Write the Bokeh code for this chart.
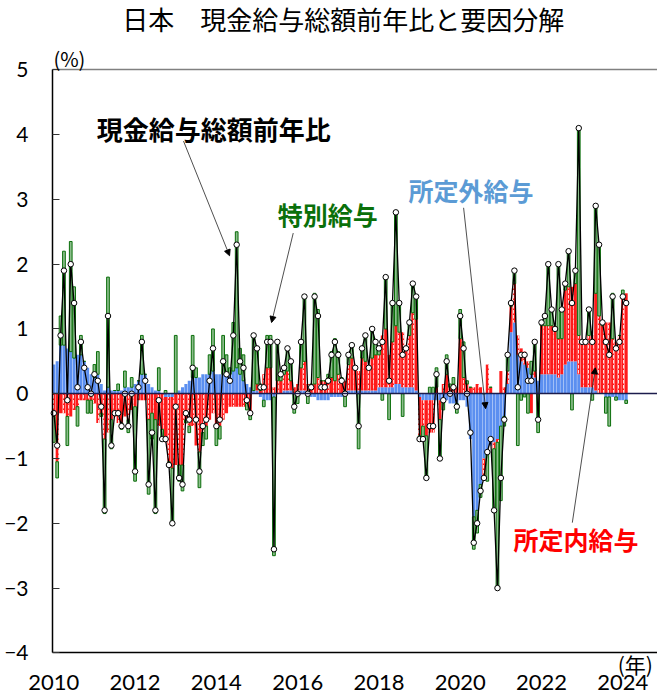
import pandas as pd
from bokeh.plotting import figure
from bokeh.models import Label, Arrow, NormalHead, FixedTicker, ColumnDataSource, LinearAxis
from bokeh.embed import file_html
from bokeh.resources import INLINE

# ---- data (% y/y and contributions, % points), monthly Jan 2010 - Feb 2024 ----
total = [
    -0.3, -0.8, 0.9, 1.9, -0.1, 2.0, 1.4, 0.1, 0.8, 0.4, 0.1, 0.0,
    0.3, 0.2, -0.2, -1.8, 1.2, -0.8, -0.3, -0.3, -0.5, 0.0, -0.5, 0.0,
    -1.2, 0.1, 0.8, 0.2, -1.4, -0.6, -1.8, -0.1, -0.7, -0.7, -1.1, -2.0,
    -0.2, -1.3, -1.4, -0.3, -0.4, 0.4, -0.4, -1.2, -0.5, -0.4, 0.2, 0.7,
    -0.5, -0.4, 0.5, 0.3, 0.2, 0.9, 2.3, 0.5, 0.4, -0.1, -0.3, 0.9,
    0.7, 0.1, 0.1, 0.8, 0.8, -2.4, 0.8, 0.3, 0.4, 0.7, 0.5, -0.2,
    0.0, 0.8, 1.5, 0.0, 0.1, 1.5, 1.2, 0.1, 0.1, 0.2, 0.6, 0.8,
    0.6, 0.2, 0.0, 0.6, 0.75, 0.4, -0.5, 0.7, 0.9, 0.4, 1.0, 0.8,
    0.7, 0.8, 1.8, 0.2, 1.4, 2.8, 1.4, 0.6, 0.7, 1.1, 1.7, 1.5,
    -0.7, -0.7, -1.3, -0.5, -0.5, 0.3, -1.0, -0.1, 0.5, 0.0, 0.1, -0.2,
    1.2, 0.7, 0.0, -0.6, -2.3, -2.0, -1.5, -1.3, -0.9, -0.7, -1.8, -3.0,
    -1.3, -0.4, 0.6, 1.4, 1.9, 0.1, 0.6, 0.6, 0.2, 0.2, 0.8, -0.4,
    1.1, 1.2, 2.0, 1.3, 1.0, 2.0, 1.3, 1.7, 2.2, 1.4, 1.9, 4.1,
    0.8, 0.8, 1.3, 0.8, 2.9, 2.3, 1.1, 0.8, 0.6, 1.5, 0.7, 0.8,
    1.5, 1.4,
]
shotei_gai = [  # 所定外給与
    0.45, 0.5, 0.75, 0.75, 0.7, 0.65, 0.55, 0.6, 0.6, 0.5, 0.4, 0.3,
    0.25, 0.3, 0.15, 0.05, 0.1, 0.05, 0.05, 0.05, 0.05, 0.1, 0.1, 0.1,
    0.15, 0.2, 0.3, 0.3, 0.15, 0.1, 0.05, 0.05, 0.0, -0.05, -0.05, -0.05,
    0.0, 0.05, 0.1, 0.15, 0.2, 0.25, 0.25, 0.25, 0.3, 0.3, 0.3, 0.35,
    0.3, 0.3, 0.3, 0.3, 0.3, 0.35, 0.4, 0.3, 0.2, 0.15, 0.1, 0.05,
    0.05, -0.05, -0.1, -0.1, -0.1, -0.05, 0.0, 0.0, 0.05, 0.05, 0.05, 0.0,
    0.0, 0.05, 0.05, 0.0, -0.05, -0.05, -0.1, -0.1, -0.1, -0.1, -0.05, -0.05,
    -0.05, -0.05, 0.0, 0.05, 0.05, 0.05, 0.05, 0.05, 0.05, 0.05, 0.05, 0.05,
    0.1, 0.1, 0.1, 0.1, 0.1, 0.15, 0.15, 0.1, 0.1, 0.1, 0.1, 0.05,
    -0.05, -0.1, -0.1, -0.1, -0.1, -0.1, -0.1, -0.1, -0.1, -0.15, -0.15, -0.15,
    -0.1, -0.1, -0.2, -0.7, -1.9, -1.8, -1.4, -1.0, -0.9, -0.8, -0.75, -0.7,
    -0.5, -0.35, 0.15, 0.95, 1.1, 0.6, 0.5, 0.45, 0.4, 0.3, 0.25, 0.2,
    0.3, 0.3, 0.3, 0.3, 0.3, 0.25, 0.3, 0.45, 0.5, 0.5, 0.5, 0.3,
    0.1, 0.1, 0.1, 0.1, 0.05, 0.0, 0.0, -0.05, -0.05, -0.05, -0.05, -0.1,
    -0.1, -0.1,
]
shotei_nai = [  # 所定内給与
    -0.35, -1.05, -0.3, -0.3, -0.35, -0.35, -0.25, -0.2, -0.1, -0.1, -0.1, -0.1,
    -0.15, -0.45, -0.3, -0.7, -0.6, -0.4, -0.35, -0.45, -0.45, -0.35, -0.4, -0.25,
    -0.2, -0.1, -0.1, -0.1, -0.4, -0.3, -0.4, -0.5, -0.55, -0.7, -1.0, -1.1,
    -1.1, -1.1, -1.1, -0.4, -0.5, -0.5, -0.8, -0.9, -0.6, -0.5, -0.4, -0.3,
    -0.5, -0.5, -0.4, -0.3, -0.2, -0.2, -0.2, -0.2, -0.2, -0.15, -0.3, 0.0,
    0.1, 0.05, 0.3, 0.4, 0.4, 0.1, 0.2, 0.2, 0.25, 0.3, 0.15, 0.1,
    0.15, 0.35, 0.45, 0.15, 0.1, 0.15, 0.25, 0.2, 0.2, 0.25, 0.25, 0.2,
    0.3, 0.2, 0.2, 0.4, 0.5, 0.35, 0.3, 0.5, 0.45, 0.35, 0.5, 0.55,
    0.5, 0.8, 0.9, 0.5, 0.7, 0.9, 0.8, 0.85, 0.6, 0.8, 1.15, 1.1,
    -0.6, -0.4, -0.55, -0.5, -0.5, 0.1, -0.3, 0.15, 0.3, 0.1, 0.15, 0.1,
    0.85, 0.25, 0.15, 0.1, 0.1, 0.15, 0.1, -0.3, 0.45, 0.1, -0.1, -0.05,
    0.35, 0.1, 0.2, 0.4, 0.6, 0.3, 0.2, 0.2, 0.1, -0.3, 0.1, 0.0,
    0.75, 0.75, 0.75, 0.75, 0.7, 0.6, 0.55, 1.15, 1.15, 1.15, 1.2, 0.6,
    0.7, 0.7, 0.8, 0.8, 1.5, 1.2, 1.05, 1.1, 1.1, 0.85, 0.8, 0.9,
    1.5, 1.55,
]
tokubetsu = [  # 特別給与
    -0.4, -0.25, 0.45, 1.45, -0.45, 1.7, 1.1, -0.3, 0.3, 0.0, -0.2, -0.2,
    0.2, 0.35, -0.05, -1.15, 1.7, -0.45, 0.0, 0.1, -0.1, 0.25, -0.2, 0.15,
    -1.15, 0.0, 0.6, 0.0, -1.15, -0.4, -1.45, 0.35, -0.15, 0.05, -0.05, -0.85,
    0.9, -0.25, -0.4, -0.05, -0.1, 0.65, 0.15, -0.55, -0.2, -0.2, 0.3, 0.65,
    -0.3, -0.2, 0.6, 0.3, 0.1, 0.75, 2.1, 0.4, 0.4, -0.1, -0.1, 0.85,
    0.55, 0.1, -0.1, 0.5, 0.5, -2.45, 0.6, 0.1, 0.1, 0.35, 0.3, -0.3,
    -0.15, 0.4, 1.0, -0.15, 0.05, 1.4, 1.05, 0.0, 0.0, 0.05, 0.4, 0.65,
    0.35, 0.05, -0.2, 0.15, 0.2, 0.0, -0.85, 0.15, 0.4, 0.0, 0.45, 0.2,
    0.1, -0.1, 0.8, -0.4, 0.6, 1.75, 0.45, -0.35, 0.0, 0.2, 0.45, 0.35,
    -0.05, -0.2, -0.65, 0.1, 0.1, 0.3, -0.6, -0.15, 0.3, 0.05, 0.1, -0.15,
    0.45, 0.55, 0.05, 0.0, -0.5, -0.35, -0.2, 0.0, -0.45, 0.0, -0.95, -2.25,
    -1.15, -0.15, 0.25, 0.05, 0.2, -0.8, -0.1, -0.05, -0.3, 0.2, 0.45, -0.6,
    0.05, 0.15, 0.95, 0.25, 0.0, 1.15, 0.45, 0.1, 0.55, -0.25, 0.2, 3.2,
    0.0, 0.0, 0.4, -0.1, 1.35, 1.1, 0.05, -0.25, -0.45, 0.7, -0.05, 0.0,
    0.1, -0.05,
]
tick_years = ["2010", "2012", "2014", "2016", "2018", "2020", "2022", "2024"]
y_ticks = [-4, -3, -2, -1, 0, 1, 2, 3, 4, 5]
y_min, y_max = -4, 5

# ---- positions ----
months = pd.date_range("2010-01-01", periods=len(total), freq="MS")
xs = list(range(len(months)))
month_keys = [m.strftime("%Y-%m") for m in months]
tick_pos = [month_keys.index(y + "-01") for y in tick_years]

# stacked bars (positive and negative stacks separately, as in Excel)
n = len(xs)
pos_base = [0.0] * n
neg_base = [0.0] * n
stacks = {}
for name, vals in [("gai", shotei_gai), ("nai", shotei_nai), ("toku", tokubetsu)]:
    bot, top = [], []
    for i, v in enumerate(vals):
        if v >= 0:
            bot.append(pos_base[i]); top.append(pos_base[i] + v); pos_base[i] += v
        else:
            top.append(neg_base[i]); bot.append(neg_base[i] + v); neg_base[i] += v
    stacks[name] = ColumnDataSource(dict(x=xs, bottom=bot, top=top))

JP = "Noto Sans CJK JP"
NUM = "Lato"

# plot area of the chart: x from -0.38 to the right edge, y from -4 to 5;
# the canvas margin around it is part of the ranges so that texts are not clipped
X_LEFT, X_RIGHT = -0.38, 178.25
p = figure(width=657, height=699, x_range=(-15.737, X_RIGHT), y_range=(-4.720, 6.070),
           output_backend="svg", toolbar_location=None,
           min_border_left=0, min_border_right=0, min_border_top=0, min_border_bottom=0)
p.title.visible = False
p.outline_line_color = None
p.xgrid.visible = False
p.ygrid.visible = False
p.background_fill_color = "white"
p.border_fill_color = "white"

# axes
yax = p.yaxis[0]
yax.fixed_location = X_LEFT
yax.bounds = (y_min, y_max)
yax.ticker = FixedTicker(ticks=y_ticks)
yax.major_tick_in = 7
yax.major_tick_out = 0
yax.minor_tick_line_color = None
yax.axis_line_width = 1.5
yax.axis_line_color = "black"
yax.major_tick_line_color = "#333333"
yax.major_label_text_font = NUM
yax.major_label_text_font_size = "21px"
yax.major_label_text_color = "black"
yax.major_label_standoff = 24

xax = p.xaxis[0]
xax.fixed_location = y_min
xax.bounds = (X_LEFT, X_RIGHT)
xax.ticker = FixedTicker(ticks=tick_pos)
xax.major_label_overrides = {t: lab for t, lab in zip(tick_pos, tick_years)}
xax.major_tick_in = 0
xax.major_tick_out = 0
xax.minor_tick_line_color = None
xax.axis_line_width = 1.3
xax.axis_line_color = "black"
xax.major_label_text_font = NUM
xax.major_label_text_font_size = "22px"
xax.major_label_text_color = "black"
xax.major_label_standoff = 22

# top frame line and zero line as plain axes without ticks
top_ax = LinearAxis(fixed_location=y_max, bounds=(X_LEFT, X_RIGHT), ticker=FixedTicker(ticks=[]),
                    axis_line_color="#808080", axis_line_width=1.5,
                    major_tick_line_color=None, minor_tick_line_color=None)
p.add_layout(top_ax, "above")
zero_ax = LinearAxis(fixed_location=0, bounds=(X_LEFT, X_RIGHT), ticker=FixedTicker(ticks=[]),
                     axis_line_color="#1c1c4c", axis_line_width=1.5,
                     major_tick_line_color=None, minor_tick_line_color=None)
p.add_layout(zero_ax, "below")

# bars
p.vbar(x="x", width=0.9, bottom="bottom", top="top", source=stacks["gai"],
       fill_color="#5b8ff0", line_color=None)
p.vbar(x="x", width=0.9, bottom="bottom", top="top", source=stacks["nai"],
       fill_color="#ff1a1a", line_color=None,
       hatch_pattern="vertical_dash", hatch_color="white", hatch_scale=5,
       hatch_weight=1, hatch_alpha=0.85)
p.vbar(x="x", width=0.8, bottom="bottom", top="top", source=stacks["toku"],
       fill_color="#4f9a4f", fill_alpha=0.65, line_color="#0a6e0a", line_width=1)

# total line
p.line(xs, total, line_color="black", line_width=1.3)
p.scatter(xs, total, marker="circle", size=5.5, fill_color="white",
          line_color="black", line_width=1)

# texts
p.add_layout(Label(x=85.5, y=5.79, text="日本　現金給与総額前年比と要因分解",
                   text_font=JP, text_font_size="26px", text_align="center",
                   text_baseline="middle", text_color="black"))
p.add_layout(Label(x=4.6, y=5.18, text="(%)", text_font=JP, text_font_size="20px",
                   text_align="center", text_baseline="middle", text_color="black"))
p.add_layout(Label(x=171.7, y=-4.17, text="(年)", text_font=JP, text_font_size="21px",
                   text_align="center", text_baseline="middle", text_color="black"))

p.add_layout(Label(x=47.2, y=4.09, text="現金給与総額前年比", text_font=JP,
                   text_font_size="26px", text_font_style="bold", text_align="center",
                   text_baseline="middle", text_color="black"))
p.add_layout(Label(x=80.9, y=2.78, text="特別給与", text_font=JP,
                   text_font_size="25px", text_font_style="bold", text_align="center",
                   text_baseline="middle", text_color="#0a700a"))
p.add_layout(Label(x=123.2, y=3.15, text="所定外給与", text_font=JP,
                   text_font_size="25px", text_font_style="bold", text_align="center",
                   text_baseline="middle", text_color="#5b9bd5"))
p.add_layout(Label(x=154.2, y=-2.25, text="所定内給与", text_font=JP,
                   text_font_size="25px", text_font_style="bold", text_align="center",
                   text_baseline="middle", text_color="#ff0000"))

for xs0, ys0, xe, ye in [(38.3, 3.90, 51.9, 2.13), (70.7, 2.48, 64.3, 1.10),
                         (121.0, 2.87, 127.5, -0.23), (153.1, -1.99, 159.9, 0.40)]:
    p.add_layout(Arrow(end=NormalHead(size=6, fill_color="black", line_color="black"),
                       x_start=xs0, y_start=ys0, x_end=xe, y_end=ye,
                       line_color="#222222", line_width=0.8))

open("out.html", "w").write(file_html(p, INLINE))
